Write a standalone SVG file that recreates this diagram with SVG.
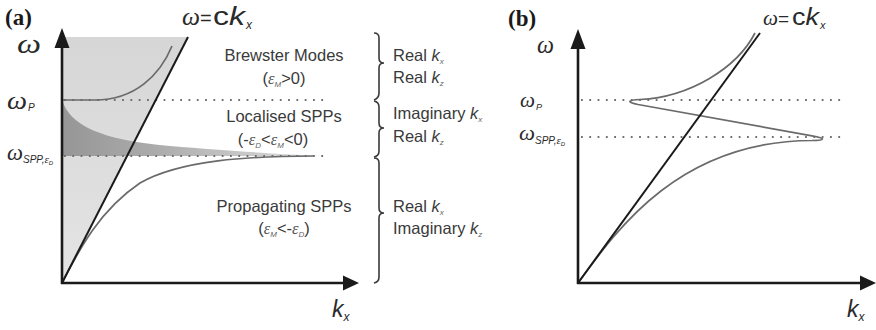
<svg xmlns="http://www.w3.org/2000/svg" width="876" height="330" viewBox="0 0 876 330">
  <style>
    .axis { stroke: #1a1a1a; stroke-width: 2.6; fill: none; }
    .head { fill: #1a1a1a; }
    .light { stroke: #1a1a1a; stroke-width: 2; fill: none; }
    .curve { stroke: #6a6a6a; stroke-width: 1.7; fill: none; stroke-linejoin: round; }
    .dots { stroke: #707070; stroke-width: 1.8; stroke-dasharray: 1.8 6.5; fill: none; }
    .brace { stroke: #3a3a3a; stroke-width: 1.6; fill: none; }
    .lab { font-family: "Liberation Sans", Arial, sans-serif; font-size: 16.5px; fill: #3a3a3a; }
    .eps { font-family: "Liberation Serif", "Times New Roman", serif; font-style: italic; fill: #555; }
    .sub { font-family: "Liberation Sans", Arial, sans-serif; font-style: italic; font-size: 8px; fill: #666; }
    .k { font-style: italic; }
    .om { font-family: "Liberation Serif", "Times New Roman", serif; font-style: italic; fill: #2a2a2a; }
    .osub { font-family: "Liberation Sans", Arial, sans-serif; font-style: italic; fill: #2a2a2a; }
    .kax { font-family: "Liberation Sans", Arial, sans-serif; font-style: italic; font-size: 23px; fill: #2a2a2a; }
    .tag { font-family: "Liberation Serif", "Times New Roman", serif; font-weight: bold; font-size: 23px; fill: #1a1a1a; }
    .eq { font-family: "Liberation Sans", Arial, sans-serif; fill: #2a2a2a; }
  </style>
  <defs>
    <linearGradient id="cone" x1="0" y1="37" x2="0" y2="283" gradientUnits="userSpaceOnUse">
      <stop offset="0" stop-color="#d6d6d6"/>
      <stop offset="1" stop-color="#e4e4e4"/>
    </linearGradient>
    <linearGradient id="loc" x1="62" y1="0" x2="325" y2="0" gradientUnits="userSpaceOnUse">
      <stop offset="0" stop-color="#969696"/>
      <stop offset="0.35" stop-color="#ababab"/>
      <stop offset="0.7" stop-color="#c8c8c8"/>
      <stop offset="1" stop-color="#e2e2e2"/>
    </linearGradient>
  </defs>

  <!-- Panel (a): dispersion regions of a metal/dielectric interface -->
  <g id="panel-a">
    <text class="tag" x="5" y="25">(a)</text>

    <!-- light-cone area and localised band -->
    <polygon points="62,37 188,37 62,283" fill="url(#cone)"/>
    <path d="M62,100 C70,125 100,140 170,146 C230,151 280,154 325,156 L62,156 Z" fill="url(#loc)"/>

    <!-- frequency levels -->
    <line class="dots" x1="64" y1="100" x2="326" y2="100"/>
    <line class="dots" x1="64" y1="156" x2="326" y2="156"/>

    <!-- Brewster branch -->
    <path class="curve" d="M62,100 L95,100 C135,100 160,75 172,46"/>
    <!-- propagating SPP branch -->
    <path class="curve" d="M62,283 C80,248 100,210 140,183 C180,160 250,156 313,156"/>
    <!-- light line -->
    <line class="light" x1="62" y1="283" x2="188" y2="37"/>

    <!-- axes -->
    <line class="axis" x1="62" y1="284" x2="62" y2="44"/>
    <line class="axis" x1="61" y1="283" x2="346" y2="283"/>
    <polygon class="head" points="62,28 69.5,48 54.5,48"/>
    <polygon class="head" points="359,283 343,275.5 343,290.5"/>

    <!-- axis labels -->
    <text class="om" x="17" y="53" font-size="27" textLength="24" lengthAdjust="spacingAndGlyphs">ω</text>
    <text class="om" x="7" y="109" font-size="26" textLength="20" lengthAdjust="spacingAndGlyphs">ω</text>
    <text class="osub" x="28" y="111" font-size="10">P</text>
    <text class="om" x="7" y="160" font-size="23" textLength="16" lengthAdjust="spacingAndGlyphs">ω</text>
    <text class="osub" x="23" y="163" font-size="10">SPP,<tspan class="om" font-size="11">ε</tspan><tspan font-size="6" dy="1.5">D</tspan></text>
    <text class="kax" x="332" y="317">k<tspan font-size="12" dy="4">x</tspan></text>

    <!-- light line label -->
    <text class="om" x="182" y="25" font-size="25" textLength="18" lengthAdjust="spacingAndGlyphs">ω</text>
    <text class="eq" x="200" y="25" font-size="20">=</text>
    <text class="eq" x="213" y="25" font-size="25" textLength="32" lengthAdjust="spacingAndGlyphs">c<tspan class="k">k</tspan></text>
    <text class="osub" x="246" y="29" font-size="12">x</text>
  </g>

  <!-- region descriptions -->
  <g id="region-brewster">
    <text class="lab" x="284" y="61" text-anchor="middle">Brewster Modes</text>
    <text class="lab" x="284" y="84" text-anchor="middle">(<tspan class="eps">ε</tspan><tspan class="sub" dy="3">M</tspan><tspan dy="-3">&gt;0)</tspan></text>
  </g>
  <g id="region-localised">
    <text class="lab" x="284" y="122" text-anchor="middle">Localised SPPs</text>
    <text class="lab" x="273" y="145" text-anchor="middle">(-<tspan class="eps">ε</tspan><tspan class="sub" dy="3">D</tspan><tspan dy="-3">&lt;</tspan><tspan class="eps">ε</tspan><tspan class="sub" dy="3">M</tspan><tspan dy="-3">&lt;0)</tspan></text>
  </g>
  <g id="region-propagating">
    <text class="lab" x="284" y="212" text-anchor="middle">Propagating SPPs</text>
    <text class="lab" x="284" y="234" text-anchor="middle">(<tspan class="eps">ε</tspan><tspan class="sub" dy="3">M</tspan><tspan dy="-3">&lt;-</tspan><tspan class="eps">ε</tspan><tspan class="sub" dy="3">D</tspan><tspan dy="-3">)</tspan></text>
  </g>

  <!-- braces with wave-vector character -->
  <g id="braces">
    <path class="brace" d="M374,33 Q379,33 379,38 L379,58 Q379,63 384,63 Q379,63 379,68 L379,93 Q379,98 374,100"/>
    <path class="brace" d="M374,101 Q379,102 379,107 L379,123 Q379,128 384,128 Q379,128 379,133 L379,151 Q379,156 374,157"/>
    <path class="brace" d="M374,158 Q379,158 379,163 L379,208 Q379,213 384,213 Q379,213 379,218 L379,277 Q379,282 374,283"/>
  </g>
  <g id="wavevector-labels">
    <text class="lab" x="393" y="61">Real <tspan class="k">k</tspan><tspan class="sub" font-size="9" dy="3">x</tspan></text>
    <text class="lab" x="393" y="83">Real <tspan class="k">k</tspan><tspan class="sub" font-size="8" dy="3">z</tspan></text>
    <text class="lab" x="393" y="119">Imaginary <tspan class="k">k</tspan><tspan class="sub" font-size="9" dy="3">x</tspan></text>
    <text class="lab" x="393" y="142">Real <tspan class="k">k</tspan><tspan class="sub" font-size="8" dy="3">z</tspan></text>
    <text class="lab" x="393" y="212">Real <tspan class="k">k</tspan><tspan class="sub" font-size="9" dy="3">x</tspan></text>
    <text class="lab" x="393" y="234">Imaginary <tspan class="k">k</tspan><tspan class="sub" font-size="8" dy="3">z</tspan></text>
  </g>

  <!-- Panel (b): back-bending dispersion -->
  <g id="panel-b">
    <text class="tag" x="508" y="26">(b)</text>

    <line class="dots" x1="581" y1="100" x2="843" y2="100"/>
    <line class="dots" x1="581" y1="137" x2="843" y2="137"/>

    <path class="curve" d="M755,33 C737,68 690,97 640,99.5 C628,100 626,102 638,104.5 L812,135.8 C826,138.3 826,140 812,140.5 C680,141 618,228 578,283"/>
    <line class="light" x1="578" y1="283" x2="760" y2="33"/>

    <line class="axis" x1="578" y1="284" x2="578" y2="44"/>
    <line class="axis" x1="577" y1="283" x2="862" y2="283"/>
    <polygon class="head" points="578,29 585.5,49 570.5,49"/>
    <polygon class="head" points="876,283 860,275.5 860,290.5"/>

    <text class="om" x="537" y="53" font-size="25" textLength="17" lengthAdjust="spacingAndGlyphs">ω</text>
    <text class="om" x="520" y="107" font-size="22" textLength="15" lengthAdjust="spacingAndGlyphs">ω</text>
    <text class="osub" x="536" y="110" font-size="9">P</text>
    <text class="om" x="519" y="140" font-size="22" textLength="16" lengthAdjust="spacingAndGlyphs">ω</text>
    <text class="osub" x="535" y="144" font-size="10">SPP,<tspan class="om" font-size="11">ε</tspan><tspan font-size="6" dy="1.5">D</tspan></text>
    <text class="kax" x="847" y="317">k<tspan font-size="12" dy="4">x</tspan></text>

    <text class="om" x="763" y="25" font-size="22" textLength="15" lengthAdjust="spacingAndGlyphs">ω</text>
    <text class="eq" x="778" y="25" font-size="19">=</text>
    <text class="eq" x="792" y="25" font-size="23" textLength="27" lengthAdjust="spacingAndGlyphs">c<tspan class="k">k</tspan></text>
    <text class="osub" x="820" y="29" font-size="11">x</text>
  </g>
</svg>
